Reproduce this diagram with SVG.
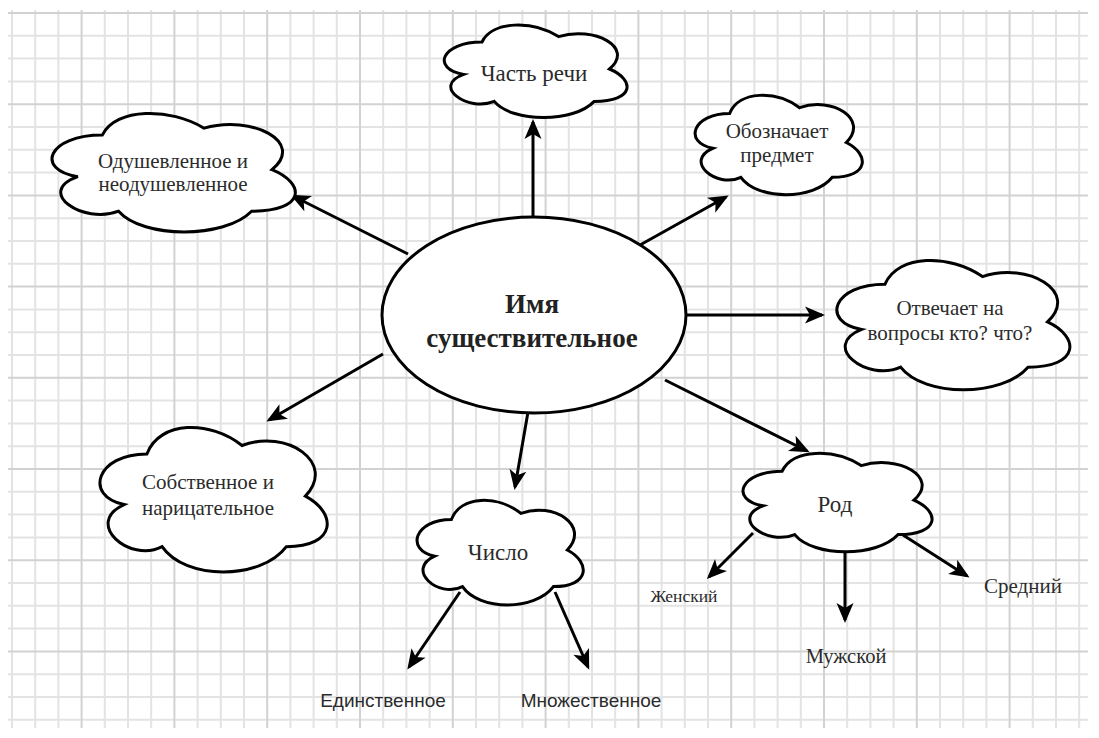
<svg xmlns="http://www.w3.org/2000/svg" xmlns:xlink="http://www.w3.org/1999/xlink" width="1099" height="738" viewBox="0 0 1099 738">
  <style>
    .grid-minor { stroke: #e3e3e3; stroke-width: 2; fill: none; }
    .grid-major { stroke: #d2d2d2; stroke-width: 2; fill: none; }
    .cloud { fill: #ffffff; stroke: #000000; stroke-width: 3; vector-effect: non-scaling-stroke; }
    .hub { fill: #ffffff; stroke: #000000; stroke-width: 3; }
    .edge { stroke: #000000; stroke-width: 3; fill: none; marker-end: url(#arrow); }
    .lbl { font-family: 'Liberation Serif', 'DejaVu Serif', serif; fill: #2b2b2b; text-anchor: middle; }
    .lbl-sans { font-family: 'Liberation Sans', 'DejaVu Sans', sans-serif; fill: #2b2b2b; text-anchor: middle; }
    .hub-lbl { font-family: 'Liberation Serif', 'DejaVu Serif', serif; font-weight: bold; fill: #222222; text-anchor: middle; font-size: 27px; }
  </style>
  <defs>
    <!-- cloud outline in a unit box, scaled per node -->
    <path id="cloud" class="cloud" d="M.25 .25C.05 .25 0 .5 .16 .55C0 .66 .18 .9 .31 .8C.4 1 .7 1 .8 .8C1 .8 1 .6 .875 .5C1 .3 .8 .1 .625 .2C.5 .05 .3 .05 .25 .25Z"/>
    <marker id="arrow" markerUnits="userSpaceOnUse" viewBox="-20 -10 24 20" refX="0" refY="0" markerWidth="24" markerHeight="20" orient="auto">
      <path d="M3 0L-17 -8.5L-12 0L-17 8.5Z" fill="#000000"/>
    </marker>
  </defs>

  <rect width="1099" height="738" fill="#ffffff"/>

  <!-- squared paper -->
  <g id="grid">
    <path class="grid-minor" d="M12 10V728M35.2 10V728M58.4 10V728M104.8 10V728M128 10V728M151.2 10V728M197.6 10V728M220.8 10V728M244 10V728M290.4 10V728M313.6 10V728M336.8 10V728M383.2 10V728M406.4 10V728M429.6 10V728M476 10V728M499.2 10V728M522.4 10V728M568.8 10V728M592 10V728M615.2 10V728M661.6 10V728M684.8 10V728M708 10V728M754.4 10V728M777.6 10V728M800.8 10V728M847.2 10V728M870.4 10V728M893.6 10V728M940 10V728M963.2 10V728M986.4 10V728M1032.8 10V728M1056 10V728M1079.2 10V728
      M8 35.8H1088M8 58.6H1088M8 81.4H1088M8 127H1088M8 149.8H1088M8 172.6H1088M8 218.2H1088M8 241H1088M8 263.8H1088M8 309.4H1088M8 332.2H1088M8 355H1088M8 400.6H1088M8 423.4H1088M8 446.2H1088M8 491.8H1088M8 514.6H1088M8 537.4H1088M8 583H1088M8 605.8H1088M8 628.6H1088M8 674.2H1088M8 697H1088M8 719.8H1088"/>
    <path class="grid-major" d="M81.6 10V728M174.4 10V728M267.2 10V728M360 10V728M452.8 10V728M545.6 10V728M638.4 10V728M731.2 10V728M824 10V728M916.8 10V728M1009.6 10V728
      M8 13H1088M8 104.2H1088M8 195.4H1088M8 286.6H1088M8 377.8H1088M8 469H1088M8 560.2H1088M8 651.4H1088"/>
  </g>

  <!-- connectors -->
  <g id="connectors">
    <line class="edge" x1="533" y1="216" x2="533" y2="122"/>
    <line class="edge" x1="640" y1="245" x2="726" y2="197"/>
    <line class="edge" x1="408" y1="254" x2="293" y2="196"/>
    <line class="edge" x1="686" y1="315" x2="822" y2="315"/>
    <line class="edge" x1="383" y1="354" x2="269" y2="420"/>
    <line class="edge" x1="528" y1="412" x2="515" y2="487"/>
    <line class="edge" x1="665" y1="380" x2="807" y2="451"/>
    <line class="edge" x1="753" y1="533" x2="709" y2="577"/>
    <line class="edge" x1="845" y1="552" x2="845" y2="620"/>
    <line class="edge" x1="903" y1="535" x2="967" y2="576"/>
    <line class="edge" x1="460" y1="592" x2="409" y2="667"/>
    <line class="edge" x1="555" y1="592" x2="588" y2="667"/>
  </g>

  <!-- central node -->
  <g id="node-noun">
    <ellipse class="hub" cx="534" cy="315" rx="152" ry="98"/>
    <text class="hub-lbl" x="532" y="313">Имя</text>
    <text class="hub-lbl" x="532" y="347">существительное</text>
  </g>

  <g id="node-part-of-speech">
    <use xlink:href="#cloud" transform="translate(431 15) scale(204 108)"/>
    <text class="lbl" x="534" y="81" font-size="23">Часть речи</text>
  </g>

  <g id="node-object">
    <use xlink:href="#cloud" transform="translate(683 84.5) scale(186.6 116)"/>
    <text class="lbl" x="777" y="138" font-size="21">Обозначает</text>
    <text class="lbl" x="777" y="162" font-size="21">предмет</text>
  </g>

  <g id="node-animate">
    <use xlink:href="#cloud" transform="translate(34.4 100.5) scale(271.5 138.4)"/>
    <text class="lbl" x="173" y="168" font-size="21">Одушевленное и</text>
    <text class="lbl" x="173" y="191" font-size="21">неодушевленное</text>
  </g>

  <g id="node-questions">
    <use xlink:href="#cloud" transform="translate(820 246.4) scale(260 151)"/>
    <text class="lbl" x="950" y="315" font-size="21">Отвечает на</text>
    <text class="lbl" x="950" y="340" font-size="21">вопросы кто? что?</text>
  </g>

  <g id="node-proper">
    <use xlink:href="#cloud" transform="translate(83.5 411.8) scale(253.6 168.6)"/>
    <text class="lbl" x="208" y="489" font-size="21">Собственное и</text>
    <text class="lbl" x="208" y="515" font-size="21">нарицательное</text>
  </g>

  <g id="node-number">
    <use xlink:href="#cloud" transform="translate(405 489) scale(185.5 122)"/>
    <text class="lbl" x="498" y="560" font-size="23">Число</text>
  </g>

  <g id="node-gender">
    <use xlink:href="#cloud" transform="translate(729.3 442.6) scale(211 115)"/>
    <text class="lbl" x="835" y="512" font-size="23">Род</text>
  </g>

  <g id="leaf-feminine">
    <text class="lbl" x="684" y="602" font-size="17.5">Женский</text>
  </g>
  <g id="leaf-masculine">
    <text class="lbl" x="846" y="663" font-size="20.5">Мужской</text>
  </g>
  <g id="leaf-neuter">
    <text class="lbl" x="1023" y="593" font-size="21">Средний</text>
  </g>
  <g id="leaf-singular">
    <text class="lbl-sans" x="383" y="707" font-size="19">Единственное</text>
  </g>
  <g id="leaf-plural">
    <text class="lbl-sans" x="591" y="707" font-size="19">Множественное</text>
  </g>
</svg>
